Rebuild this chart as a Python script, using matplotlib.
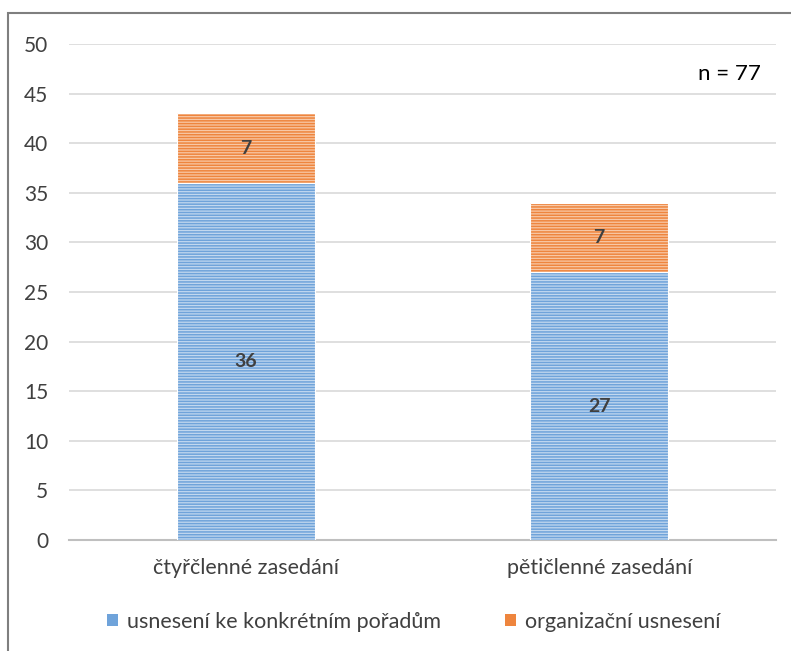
import matplotlib
matplotlib.use("Agg")
import matplotlib.pyplot as plt
from matplotlib.patches import Rectangle, Patch
import numpy as np

categories = ["čtyřčlenné zasedání", "pětičlenné zasedání"]
series_names = ["usnesení ke konkrétním pořadům", "organizační usnesení"]
konkretni = [36, 27]
organizacni = [7, 7]
n_label = "n = 77"
yticks = [0, 5, 10, 15, 20, 25, 30, 35, 40, 45, 50]

plt.rcParams['font.family'] = ['Lato', 'DejaVu Sans']
plt.rcParams['hatch.linewidth'] = 1.1

fig = plt.figure(figsize=(7.91, 6.51), dpi=100)
W, H = 791, 651
# outer frame
fig.patches.append(Rectangle((8 / W, -0.05), 1.0, 1 - 13 / H + 0.05, transform=fig.transFigure,
                             fill=False, edgecolor="#7F7F7F", linewidth=1.5))

ax = fig.add_axes([69 / W, 1 - 540 / H, (776 - 69) / W, (540 - 44) / H])
x = np.arange(len(categories))
bw = 0.39
blue_face, blue_hatch = "#C2D8EF", "#6FA3DA"
orange_face, orange_hatch = "#F8C8A6", "#EE853E"
b1 = ax.bar(x, konkretni, bw, color=blue_face, edgecolor=blue_hatch, hatch="------", linewidth=0, zorder=3)
b2 = ax.bar(x, organizacni, bw, bottom=konkretni, color=orange_face, edgecolor=orange_hatch,
            hatch="------", linewidth=0, zorder=3)
for bars in (b1, b2):
    for b in bars:
        ax.add_patch(Rectangle((b.get_x(), b.get_y()), b.get_width(), b.get_height(), fill=False,
                               edgecolor="white", linewidth=0.8, zorder=4))

for i in range(len(categories)):
    ax.text(x[i], konkretni[i] / 2, str(konkretni[i]), ha="center", va="center",
            fontsize=14, fontweight="bold", color="#404040", zorder=5)
    ax.text(x[i], konkretni[i] + organizacni[i] / 2, str(organizacni[i]), ha="center", va="center",
            fontsize=14, fontweight="bold", color="#404040", zorder=5)

ax.set_xlim(-0.5, 1.5)
ax.set_ylim(0, 50)
ax.set_yticks(yticks)
ax.set_yticklabels([str(t) for t in yticks], fontsize=15, color="#404040")
ax.set_xticks(x)
ax.set_xticklabels(categories, fontsize=15.5, color="#404040")
ax.tick_params(axis="both", length=0)
ax.tick_params(axis="y", pad=15)
ax.tick_params(axis="x", pad=13)
ax.yaxis.grid(True, color="#D9D9D9", linewidth=1.2, zorder=0)
ax.set_axisbelow(True)
for s in ["top", "right", "left"]:
    ax.spines[s].set_visible(False)
ax.spines["bottom"].set_color("#BFBFBF")
ax.spines["bottom"].set_linewidth(1.5)
ax.spines["bottom"].set_zorder(2)

ax.text(0.978, 0.94, n_label, transform=ax.transAxes, ha="right", va="center", fontsize=16, color="black")

handles = [Patch(facecolor=blue_hatch, edgecolor="none"), Patch(facecolor=orange_hatch, edgecolor="none")]
fig.legend(handles, series_names, loc="center", bbox_to_anchor=(0.523, 1 - 622 / H), ncol=2, frameon=False,
           fontsize=15.5, handlelength=0.5, handleheight=0.5, handletextpad=0.4, columnspacing=3.0,
           labelcolor="#404040")

fig.savefig("out.png", dpi=100)
